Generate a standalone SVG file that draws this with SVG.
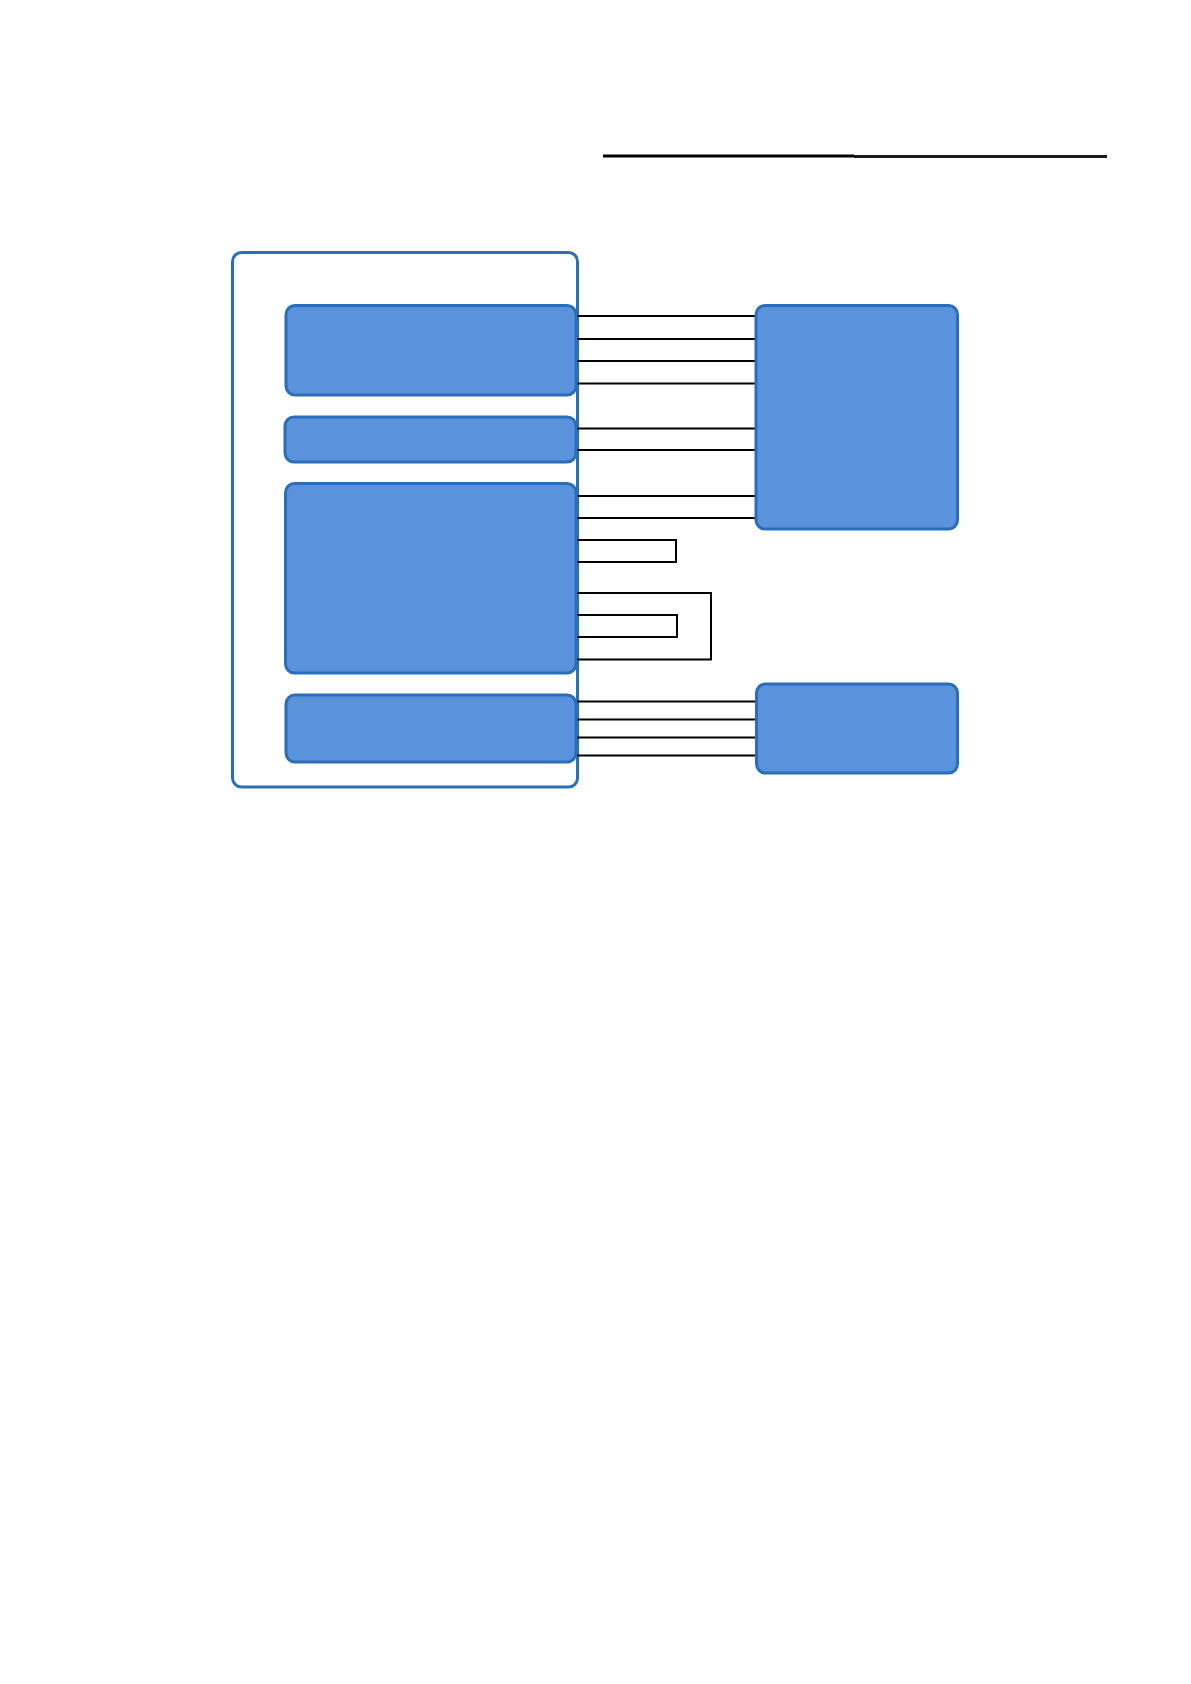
<svg xmlns="http://www.w3.org/2000/svg" width="1191" height="1684" viewBox="0 0 1191 1684">
<style>
.node{fill:#5A93DB;stroke:#2A6EBB;stroke-width:3}
.frame{fill:#FFFFFF;stroke:#2A6EBB;stroke-width:3}
.wire{fill:none;stroke:#000000;stroke-width:2}
</style>
<rect x="0" y="0" width="1191" height="1684" fill="#FFFFFF"/>
<g id="header-rule">
<line x1="603" y1="156" x2="854" y2="156" stroke="#000000" stroke-width="3"/>
<line x1="854" y1="156.5" x2="1107" y2="156.5" stroke="#1A1A1A" stroke-width="3"/>
</g>
<g id="container">
<rect class="frame" x="232.5" y="252.5" width="345" height="534.5" rx="9"/>
</g>
<g id="connectors">
<line class="wire" x1="577" y1="316" x2="755" y2="316"/>
<line class="wire" x1="577" y1="339" x2="755" y2="339"/>
<line class="wire" x1="577" y1="361" x2="755" y2="361"/>
<line class="wire" x1="577" y1="383.5" x2="755" y2="383.5"/>
<line class="wire" x1="577" y1="428.5" x2="755" y2="428.5"/>
<line class="wire" x1="577" y1="450" x2="755" y2="450"/>
<line class="wire" x1="577" y1="496" x2="755" y2="496"/>
<line class="wire" x1="577" y1="518" x2="755" y2="518"/>
<polyline class="wire" points="577,540 676,540 676,562 577,562"/>
<polyline class="wire" points="577,593 711,593 711,659.5 577,659.5"/>
<polyline class="wire" points="577,615 677,615 677,637 577,637"/>
<line class="wire" x1="577" y1="701.5" x2="756" y2="701.5"/>
<line class="wire" x1="577" y1="719.5" x2="756" y2="719.5"/>
<line class="wire" x1="577" y1="737.5" x2="756" y2="737.5"/>
<line class="wire" x1="577" y1="755.5" x2="756" y2="755.5"/>
</g>
<g id="block-a">
<rect class="node" x="286" y="305.5" width="290" height="89.5" rx="9"/>
</g>
<g id="block-b">
<rect class="node" x="285" y="417" width="291" height="45" rx="9"/>
</g>
<g id="block-c">
<rect class="node" x="285.5" y="483.5" width="290.5" height="189.5" rx="9"/>
</g>
<g id="block-d">
<rect class="node" x="286" y="695" width="290" height="67" rx="9"/>
</g>
<g id="block-e">
<rect class="node" x="756" y="305.5" width="201.5" height="223.5" rx="9"/>
</g>
<g id="block-f">
<rect class="node" x="756.5" y="684" width="201" height="89" rx="9"/>
</g>
</svg>
